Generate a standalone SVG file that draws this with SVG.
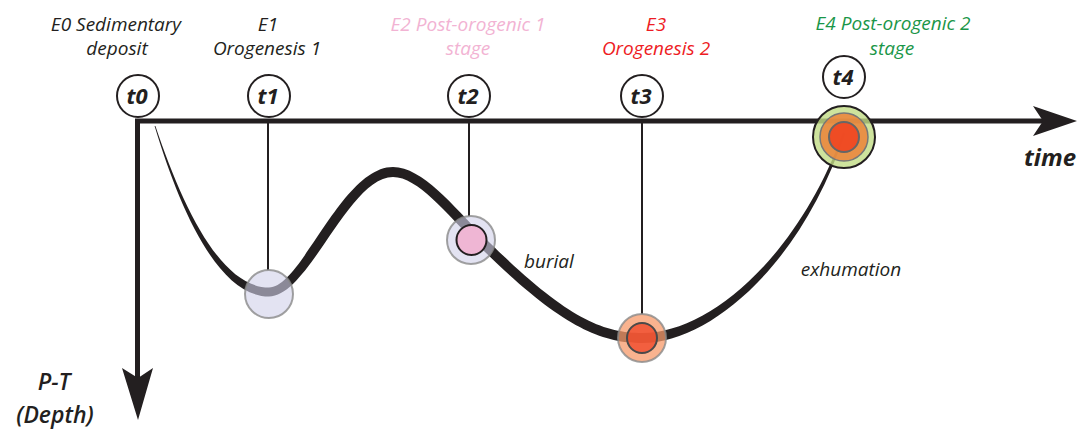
<svg xmlns="http://www.w3.org/2000/svg" width="1078" height="431" viewBox="0 0 1078 431">
<style>
.lbl{font-family:"Open Sans","Liberation Sans",sans-serif;font-style:italic;font-weight:500;font-size:19px;text-anchor:middle}
.big{font-size:23px;font-weight:600}
.tl{font-family:"Open Sans","Liberation Sans",sans-serif;font-style:italic;font-weight:bold;font-size:22px;text-anchor:middle;fill:#231f20}
.tc{fill:#fff;stroke:#231f20;stroke-width:2}
.drop{stroke:#231f20;stroke-width:2;fill:none}
.ax{stroke:#231f20;stroke-width:5;fill:none}
</style>
<rect width="1078" height="431" fill="#fff"/>
<g id="connectors">
<line class="ax" x1="135" y1="121" x2="1048" y2="121"/>
<polygon points="1033,106 1077,121 1033,136 1043,121" fill="#231f20"/>
<line class="ax" x1="137.5" y1="119" x2="137.5" y2="385"/>
<polygon points="122,368 138,420 153,368 138,378" fill="#231f20"/>
<line class="drop" x1="268" y1="123" x2="268" y2="270"/>
<line class="drop" x1="469" y1="123" x2="469" y2="216"/>
<line class="drop" x1="642" y1="123" x2="642" y2="314"/>
<path id="pt-path" fill="#231f20" d="M155.4,125.9 C183.5,209.5 221.5,287.5 269,287.5 C301.4,287.5 341.5,167 393,167 C422.3,167 453.7,206.6 483.5,236.5 C562.9,315.8 601.1,333 642,333 C708,333.5 797.5,258 843,132.7 L845,133.3 C802.5,262 712,342.5 642,343 C598.9,343 557.1,324.2 476.5,243.5 C446.3,213.4 417.7,177 393,177 C348.5,177 308.6,296.5 269,296.5 C218.5,296.5 180,210.5 154.6,126.1 Z"/>
</g>
<g id="t0"><circle class="tc" cx="138" cy="96" r="21"/><text class="tl" x="137" y="104">t0</text></g>
<g id="t1"><circle class="tc" cx="269" cy="96" r="21"/><text class="tl" x="268" y="104">t1</text></g>
<g id="t2"><circle class="tc" cx="469" cy="96" r="21"/><text class="tl" x="468" y="104">t2</text></g>
<g id="t3"><circle class="tc" cx="642" cy="96" r="21"/><text class="tl" x="641" y="104">t3</text></g>
<g id="t4"><circle class="tc" cx="844" cy="77" r="21"/><text class="tl" x="843" y="85">t4</text></g>
<g id="E0"><text class="lbl" fill="#231f20"><tspan x="116" y="31">E0 Sedimentary</tspan><tspan x="117" y="55">deposit</tspan></text></g>
<g id="E1"><text class="lbl" fill="#231f20"><tspan x="268" y="31">E1</tspan><tspan x="267" y="55">Orogenesis 1</tspan></text></g>
<g id="E2"><text class="lbl" fill="#f2b3d3"><tspan x="468" y="31">E2 Post-orogenic 1</tspan><tspan x="468" y="55">stage</tspan></text></g>
<g id="E3"><text class="lbl" fill="#ee1c24"><tspan x="656" y="31">E3</tspan><tspan x="656" y="55">Orogenesis 2</tspan></text></g>
<g id="E4"><text class="lbl" fill="#1a9648"><tspan x="893" y="30">E4 Post-orogenic 2</tspan><tspan x="892" y="55">stage</tspan></text></g>
<g id="s1"><circle cx="269" cy="294" r="24" fill="#d0d0ea" fill-opacity="0.6" stroke="#8a8a8a" stroke-width="2" stroke-opacity="0.8"/></g>
<g id="s2"><circle cx="471" cy="240" r="24" fill="#d0d0ea" fill-opacity="0.6" stroke="#8a8a8a" stroke-width="2" stroke-opacity="0.8"/><circle cx="471.5" cy="240" r="15" fill="#efb6d4" stroke="#231f20" stroke-width="2"/></g>
<g id="s3"><circle cx="642" cy="338" r="24" fill="#f79a6a" fill-opacity="0.75" stroke="#8a8a8a" stroke-width="2" stroke-opacity="0.8"/><circle cx="642" cy="338" r="15" fill="#f04a2a" fill-opacity="0.8" stroke="#4a4a4a" stroke-width="2"/></g>
<g id="s4"><circle cx="844" cy="137" r="31" fill="#c2dc84" fill-opacity="0.8" stroke="#231f20" stroke-width="2"/><circle cx="844" cy="137" r="24" fill="#ec8238" fill-opacity="0.85" stroke="#777" stroke-width="1.5"/><circle cx="844" cy="137" r="15" fill="#f0401f" fill-opacity="0.85" stroke="#666" stroke-width="2"/></g>
<text class="lbl" fill="#231f20" x="549" y="268">burial</text>
<text class="lbl" fill="#231f20" x="851" y="276">exhumation</text>
<text x="1024" y="166" font-family="Open Sans, Liberation Sans, sans-serif" font-style="italic" font-weight="bold" font-size="24" fill="#231f20">time</text>
<text class="lbl big" fill="#231f20" x="54" y="390">P-T</text>
<text class="lbl big" fill="#231f20" x="55" y="423">(Depth)</text>
</svg>
